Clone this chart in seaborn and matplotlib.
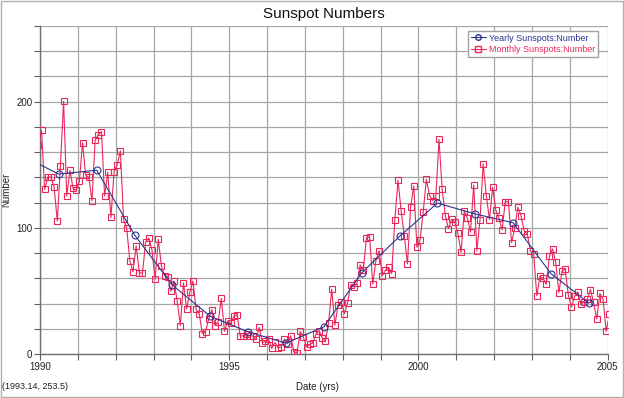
import numpy as np
import pandas as pd
import matplotlib
matplotlib.use("Agg")
import matplotlib.pyplot as plt
import seaborn as sns
from matplotlib.ticker import MultipleLocator, FuncFormatter
from matplotlib.lines import Line2D
from matplotlib.patches import Rectangle

# Monthly sunspot numbers, Dec 1989 .. Jan 2005 (one row per year, Jan..Dec)
monthly_start = [165.5]  # Dec 1989 (clipped at the left edge)
monthly_by_year = {
    1990: [177.2, 130.5, 140.3, 140.3, 132.2, 105.4, 149.4, 200.3, 125.2, 145.5, 131.4, 129.7],
    1991: [136.9, 167.5, 141.9, 140.0, 121.3, 169.7, 173.7, 176.3, 125.3, 144.1, 108.2, 144.4],
    1992: [150.0, 161.1, 106.7, 99.8, 73.8, 65.2, 85.7, 64.5, 63.9, 88.7, 91.8, 82.6],
    1993: [59.3, 91.0, 69.8, 62.2, 61.3, 49.8, 57.9, 42.2, 22.4, 56.4, 35.6, 48.9],
    1994: [57.8, 35.5, 31.7, 16.1, 17.8, 28.0, 35.1, 22.5, 25.7, 44.0, 18.0, 26.2],
    1995: [24.2, 29.9, 31.1, 14.0, 14.5, 15.6, 14.5, 14.3, 11.8, 21.1, 9.0, 10.0],
    1996: [11.5, 4.4, 9.2, 4.8, 5.5, 11.8, 8.2, 14.4, 1.6, 0.9, 17.9, 13.3],
    1997: [5.7, 7.6, 8.7, 15.5, 18.5, 12.7, 10.4, 24.4, 51.3, 22.8, 39.0, 41.2],
    1998: [31.9, 40.3, 54.8, 53.4, 56.3, 70.7, 66.6, 92.2, 92.9, 55.5, 74.0, 81.9],
    1999: [62.0, 66.3, 68.8, 63.7, 106.4, 137.7, 113.5, 93.7, 71.5, 116.7, 133.2, 84.6],
    2000: [90.1, 112.9, 138.5, 125.5, 121.6, 124.9, 170.1, 130.5, 109.7, 99.4, 106.8, 104.4],
    2001: [95.6, 80.6, 113.5, 107.7, 96.6, 134.0, 81.8, 106.4, 150.7, 125.5, 106.5, 132.2],
    2002: [114.1, 107.4, 98.4, 120.7, 120.8, 88.3, 99.6, 116.4, 109.6, 97.5, 95.0, 81.6],
    2003: [79.5, 46.2, 61.5, 60.0, 55.2, 77.4, 83.3, 72.7, 48.7, 65.5, 67.3, 46.5],
    2004: [37.3, 45.8, 49.1, 39.3, 41.5, 43.2, 51.1, 40.9, 27.7, 48.0, 43.5, 17.9],
}
monthly_end = [31.3]  # Jan 2005 (clipped at the right edge)

# Yearly mean sunspot numbers (plotted at mid-year)
yearly_years = [1989, 1990, 1991, 1992, 1993, 1994, 1995, 1996, 1997,
                1998, 1999, 2000, 2001, 2002, 2003, 2004]
yearly_values = [157.6, 142.6, 145.7, 94.3, 54.6, 29.9, 17.5, 8.6, 21.5,
                 64.3, 93.3, 119.6, 111.0, 104.0, 63.7, 40.4]

x_tick_labels = [1990, 1995, 2000, 2005]
y_tick_labels = [0, 100, 200]

# build tables (decimal year at mid-month)
dates = pd.date_range("1989-12-01", "2005-01-01", freq="MS")
values = monthly_start + [v for yr in sorted(monthly_by_year) for v in monthly_by_year[yr]] + monthly_end
monthly = pd.DataFrame({"date": dates.year + (dates.month - 0.5) / 12.0, "number": values})
yearly = pd.DataFrame({"date": np.array(yearly_years) + 0.5, "number": yearly_values})

red = "#E8285A"
blue = "#2B3590"
grid_col = "#A6A6A6"

sns.set_theme(style="white")
plt.rcParams["font.family"] = ["Liberation Sans", "DejaVu Sans"]

fig = plt.figure(figsize=(6.24, 3.98), dpi=100)
ax = fig.add_axes([0.064, 0.1106, 0.910, 0.8241])

sns.lineplot(data=monthly, x="date", y="number", ax=ax, color=red, lw=0.8,
             marker="s", markersize=5, markerfacecolor="none",
             markeredgecolor=red, markeredgewidth=0.8, zorder=3, clip_on=True)
sns.lineplot(data=yearly, x="date", y="number", ax=ax, color=blue, lw=0.8,
             marker="o", markersize=5, markerfacecolor="none",
             markeredgecolor=blue, markeredgewidth=0.8, zorder=4, clip_on=True)

ax.set_xlim(1990, 2005)
ax.set_ylim(0, 260)
ax.xaxis.set_major_locator(MultipleLocator(1))
ax.yaxis.set_major_locator(MultipleLocator(20))
ax.xaxis.set_major_formatter(FuncFormatter(
    lambda v, p: f"{int(round(v))}" if int(round(v)) in x_tick_labels else ""))
ax.yaxis.set_major_formatter(FuncFormatter(
    lambda v, p: f"{int(round(v))}" if int(round(v)) in y_tick_labels else ""))
ax.grid(True, color=grid_col, lw=0.9)
ax.set_axisbelow(True)
ax.tick_params(axis="both", which="major", direction="out", length=4, width=0.8,
               color="#606060", labelsize=7, pad=1.5, labelcolor="#202020")
ax.tick_params(axis="x", bottom=True)
ax.tick_params(axis="y", left=True)
for side in ["top", "right"]:
    ax.spines[side].set_visible(False)
for side in ["left", "bottom"]:
    ax.spines[side].set_color("#707070")
    ax.spines[side].set_linewidth(1.0)

ax.set_xlabel("Date (yrs)", fontsize=7, color="#202020")
ax.set_ylabel("Number", fontsize=7, color="#202020")
ax.xaxis.set_label_coords(0.488, -0.085)
ax.yaxis.set_label_coords(-0.05, 0.5)
ax.set_title("Sunspot Numbers", fontsize=11, color="#111111", pad=6)

handles = [
    Line2D([], [], color=blue, lw=0.8, marker="o", markersize=4,
           markerfacecolor="none", markeredgecolor=blue),
    Line2D([], [], color=red, lw=0.8, marker="s", markersize=4,
           markerfacecolor="none", markeredgecolor=red),
]
leg = ax.legend(handles, ["Yearly Sunspots:Number", "Monthly Sunspots:Number"],
                loc="upper right", bbox_to_anchor=(0.983, 0.985), fontsize=6.5,
                frameon=True, fancybox=False, framealpha=1, edgecolor="#A0A0A0",
                borderpad=0.3, handlelength=1.6, handletextpad=0.4,
                labelspacing=0.25, borderaxespad=0)
for text, col in zip(leg.get_texts(), [blue, red]):
    text.set_color(col)

fig.text(0.004, 0.018, "(1993.14, 253.5)", fontsize=6.5, color="#202020",
         ha="left", va="bottom")
fig.patches.append(Rectangle((0.001, 0.002), 0.997, 0.995, transform=fig.transFigure,
                             fill=False, edgecolor="#B0B0B0", lw=1.0))

fig.savefig("out.png", dpi=100)
